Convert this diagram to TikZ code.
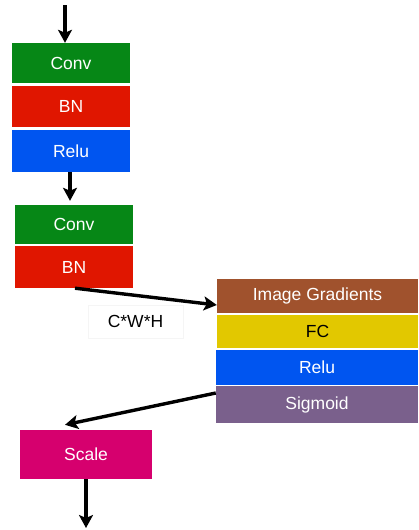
\documentclass[tikz,border=0pt]{standalone}
\usepackage{fontspec}
\setmainfont{Liberation Sans}
\usetikzlibrary{arrows.meta}
\definecolor{cgreen}{RGB}{6,135,22}
\definecolor{cred}{RGB}{224,22,0}
\definecolor{cblue}{RGB}{0,85,240}
\definecolor{cbrown}{RGB}{160,82,45}
\definecolor{cyellow}{RGB}{226,200,0}
\definecolor{cpurple}{RGB}{122,96,140}
\definecolor{cmag}{RGB}{214,0,110}
\tikzset{
  blk/.style={inner sep=0pt, text=white, font=\fontsize{17.5}{20}\selectfont},
  conn/.style={line width=3.4pt, -{Stealth[length=13pt,width=14pt,inset=3pt]}}
}
\begin{document}
\begin{tikzpicture}[x=1pt,y=-1pt]
\useasboundingbox[fill=white] (0,0) rectangle (419,530);
\node[blk, fill=cgreen, minimum width=118pt, minimum height=40pt] (conv1) at (71,63) {Conv};
\node[blk, fill=cred, minimum width=118pt, minimum height=41pt] (bn1) at (71,106.5) {BN};
\node[blk, fill=cblue, minimum width=118pt, minimum height=42pt] (relu1) at (71,151) {Relu};
\node[blk, fill=cgreen, minimum width=118pt, minimum height=39pt] (conv2) at (74,224.5) {Conv};
\node[blk, fill=cred, minimum width=118pt, minimum height=42pt] (bn2) at (74,267) {BN};
\node[blk, text=black, draw=black!4, line width=0.6pt, minimum width=95pt, minimum height=33pt] (cwh) at (135.5,321.5) {C*W*H};
\node[blk, fill=cbrown, minimum width=201pt, minimum height=34pt] (ig) at (317.5,296) {Image Gradients};
\node[blk, fill=cyellow, text=black, minimum width=201pt, minimum height=33pt] (fc) at (317.5,331.5) {FC};
\node[blk, fill=cblue, minimum width=202pt, minimum height=35pt] (relu2) at (317,367) {Relu};
\node[blk, fill=cpurple, minimum width=202pt, minimum height=37pt] (sig) at (317,404.5) {Sigmoid};
\node[blk, fill=cmag, minimum width=132pt, minimum height=49pt] (scale) at (86,454.5) {Scale};
\coordinate (in) at (65,5);
\coordinate (out) at (86,528);
\draw[conn] (in) -- (in |- conv1.north);
\draw[conn, shorten >=4pt] (relu1.south -| 70,0) -- (conv2.north -| 70,0);
\draw[conn] (bn2.south -| 75,0) -- ([yshift=-9pt]ig.west);
\draw[conn] ([yshift=11.5pt]sig.west) -- ([xshift=-21pt,yshift=5pt]scale.north);
\draw[conn] (scale.south) -- (out);
\end{tikzpicture}
\end{document}
